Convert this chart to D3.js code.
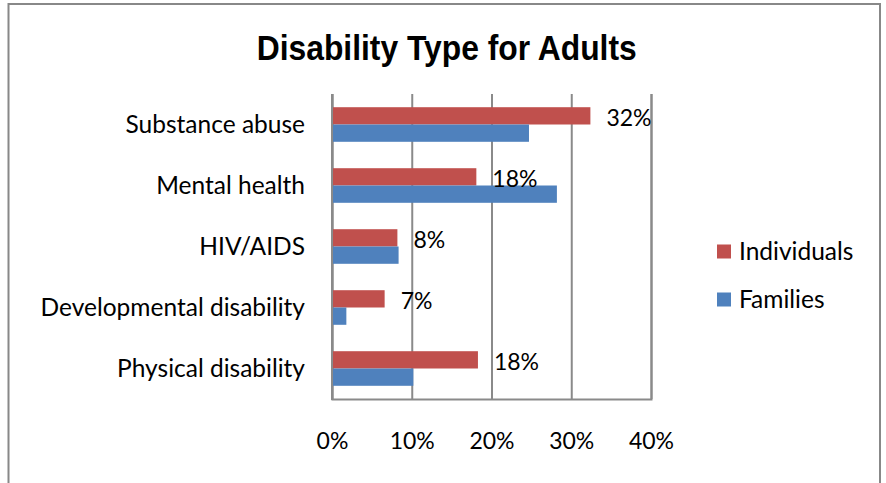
<!DOCTYPE html>
<html>
<head>
<meta charset="utf-8">
<script src="https://cdn.jsdelivr.net/npm/d3@7"></script>
<style>
  html, body { margin: 0; padding: 0; background: #fff; }
  svg { display: block; }
</style>
</head>
<body>
<script>
// Chart data
const categories = ["Substance abuse", "Mental health", "HIV/AIDS", "Developmental disability", "Physical disability"];
const seriesNames = ["Individuals", "Families"];
const individuals = [0.324, 0.181, 0.082, 0.066, 0.183];
const families = [0.247, 0.282, 0.0835, 0.018, 0.102];
const tickValues = [0, 0.1, 0.2, 0.3, 0.4];

const colors = { Individuals: "#C0504D", Families: "#4F81BD" };
const gridColor = "#8a8a8a";
const labelFont = "Lato, 'Open Sans', sans-serif";

const W = 886, H = 483;
const plot = { left: 332, right: 651, top: 94, bottom: 399 };

const svg = d3.select("body").append("svg")
  .attr("width", W).attr("height", H);

svg.append("rect").attr("width", W).attr("height", H).attr("fill", "#fff");

// Outer chart frame (bottom edge runs past the canvas)
svg.append("rect")
  .attr("x", 8.5).attr("y", 4)
  .attr("width", 871.5).attr("height", 520)
  .attr("fill", "none")
  .attr("stroke", "#888")
  .attr("stroke-width", 2);

// Title
svg.append("text")
  .attr("x", 446.7).attr("y", 60)
  .attr("text-anchor", "middle")
  .attr("font-family", "'Liberation Sans', Arial, Helvetica, sans-serif")
  .attr("font-weight", "bold")
  .attr("font-size", 35)
  .attr("textLength", 380)
  .attr("lengthAdjust", "spacingAndGlyphs")
  .attr("fill", "#000")
  .text("Disability Type for Adults");

// Scales
const x = d3.scaleLinear().domain([0, 0.4]).range([plot.left, plot.right]);
const y = d3.scaleBand().domain(categories)
  .range([plot.top, plot.bottom])
  .paddingInner(0.433).paddingOuter(0.2165);
const ySub = d3.scaleBand().domain(seriesNames).range([0, y.bandwidth()]);

// Vertical gridlines + x tick labels
const xAxis = d3.axisBottom(x)
  .tickValues(tickValues)
  .tickFormat(d3.format(".0%"))
  .tickSize(-(plot.bottom - plot.top))
  .tickPadding(34);

const gx = svg.append("g")
  .attr("transform", `translate(0,${plot.bottom})`)
  .call(xAxis);
gx.select(".domain").attr("stroke", gridColor).attr("stroke-width", 2);
gx.selectAll(".tick line").attr("stroke", gridColor).attr("stroke-width", 2);
gx.selectAll(".tick text")
  .attr("font-family", labelFont)
  .attr("font-size", 23)
  .attr("fill", "#000");

// Category axis
const yAxis = d3.axisLeft(y).tickSize(0).tickPadding(27);
const gy = svg.append("g")
  .attr("transform", `translate(${plot.left},0)`)
  .call(yAxis);
gy.select(".domain").remove();
gy.selectAll(".tick text")
  .attr("font-family", labelFont)
  .attr("font-size", 24.5)
  .attr("dy", "0.36em")
  .attr("fill", "#000");

// Bars
const rows = categories.map((c, i) => ({
  category: c,
  values: [
    { series: "Individuals", value: individuals[i] },
    { series: "Families", value: families[i] }
  ]
}));

const groups = svg.append("g").selectAll("g")
  .data(rows)
  .join("g")
  .attr("transform", d => `translate(0,${y(d.category)})`);

groups.selectAll("rect")
  .data(d => d.values)
  .join("rect")
  .attr("x", x(0))
  .attr("y", d => ySub(d.series))
  .attr("width", d => x(d.value) - x(0))
  .attr("height", ySub.bandwidth())
  .attr("fill", d => colors[d.series]);

// Category axis line drawn over the bar starts
svg.append("line")
  .attr("x1", plot.left).attr("x2", plot.left)
  .attr("y1", plot.top).attr("y2", plot.bottom + 1)
  .attr("stroke", gridColor).attr("stroke-width", 2);

// Data labels for Individuals
groups.append("text")
  .datum(d => d.values[0])
  .attr("x", d => x(d.value) + 16)
  .attr("y", d => ySub(d.series) + ySub.bandwidth() / 2 + 2)
  .attr("dy", "0.36em")
  .attr("font-family", labelFont)
  .attr("font-size", 23)
  .attr("fill", "#000")
  .text(d => d3.format(".0%")(d.value));

// Legend
const legend = svg.append("g").selectAll("g")
  .data(seriesNames)
  .join("g")
  .attr("transform", (d, i) => `translate(717,${251.5 + i * 48})`);

legend.append("rect")
  .attr("x", 0).attr("y", -7)
  .attr("width", 14).attr("height", 14)
  .attr("fill", d => colors[d]);

legend.append("text")
  .attr("x", 22).attr("y", 0)
  .attr("dy", "0.36em")
  .attr("font-family", labelFont)
  .attr("font-size", 24.5)
  .attr("fill", "#000")
  .text(d => d);
</script>
</body>
</html>
